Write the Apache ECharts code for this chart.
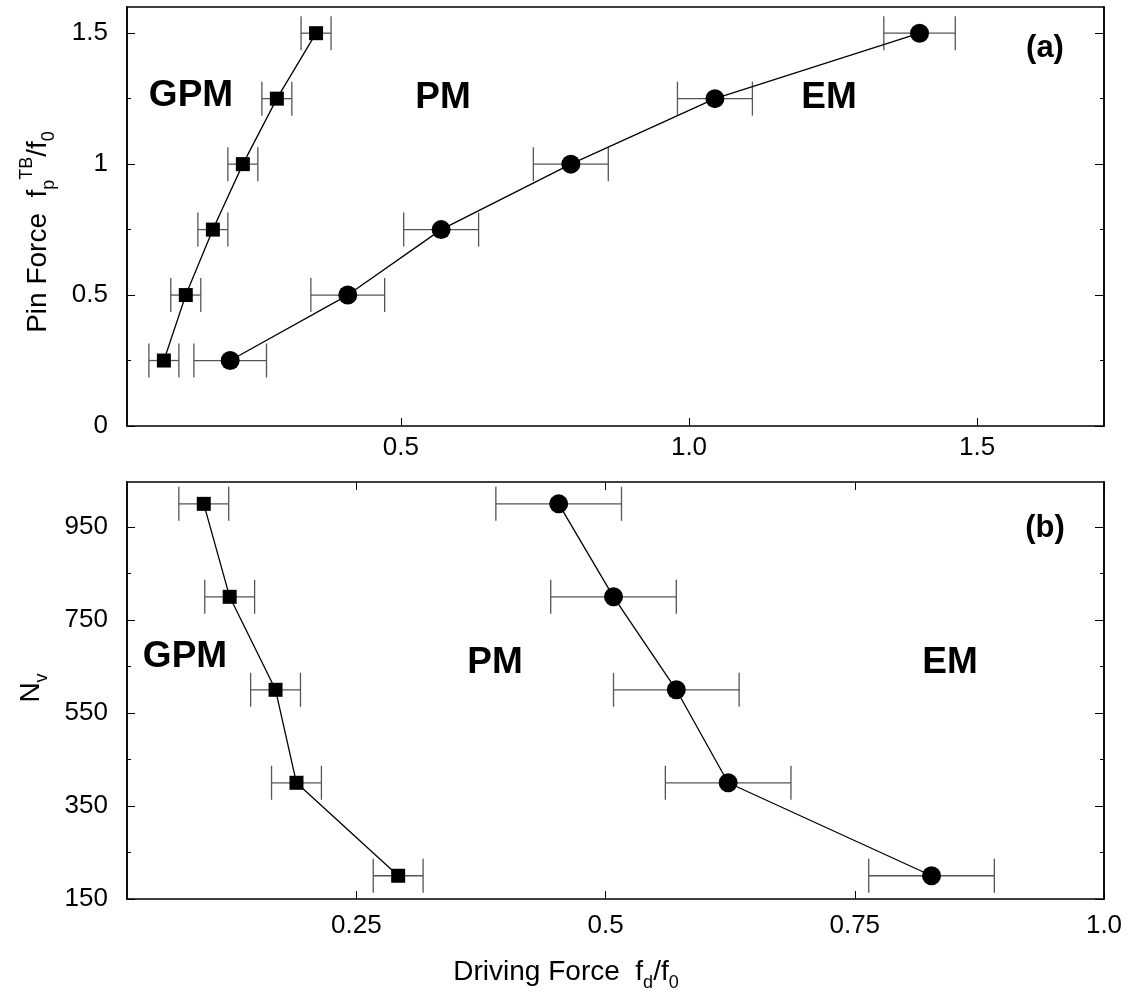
<!DOCTYPE html>
<html>
<head>
<meta charset="utf-8">
<script src="https://cdn.jsdelivr.net/npm/echarts@6/dist/echarts.min.js"></script>
<style>
html, body { margin: 0; padding: 0; background: #fff; }
#chart { width: 1134px; height: 1000px; }
</style>
</head>
<body>
<div id="chart"></div>
<script>
// panel (a): pin force vs driving force
var pinForce = [0.25, 0.5, 0.75, 1.0, 1.25, 1.5];
var gpmFdA = [0.089, 0.127, 0.174, 0.226, 0.285, 0.353];
var gpmErrA = [0.026, 0.026, 0.026, 0.026, 0.026, 0.026];
var emFdA = [0.204, 0.408, 0.570, 0.795, 1.045, 1.400];
var emErrA = [0.063, 0.064, 0.065, 0.065, 0.065, 0.062];

// panel (b): number of vortices vs driving force
var nv = [200, 400, 600, 800, 1000];
var gpmFdB = [0.292, 0.190, 0.169, 0.123, 0.097];
var gpmErrB = [0.025, 0.025, 0.025, 0.025, 0.025];
var emFdB = [0.827, 0.623, 0.571, 0.508, 0.453];
var emErrB = [0.063, 0.063, 0.063, 0.063, 0.063];

// tick positions
var xTicksA = [0.5, 1.0, 1.5];
var yMajorA = [0, 0.5, 1, 1.5];
var yMinorA = [0.25, 0.75, 1.25];
var xTicksB = [0.25, 0.5, 0.75, 1.0];
var yMajorB = [150, 350, 550, 750, 950];
var yMinorB = [250, 450, 650, 850];

var FONT = 'Liberation Sans, Arial, sans-serif';

function rich(size) {
    return {
        m: { fontSize: size, fontFamily: FONT, color: '#000', lineHeight: size + 12, verticalAlign: 'middle' },
        sub: { fontSize: 18, fontFamily: FONT, color: '#000', lineHeight: 18, verticalAlign: 'bottom' },
        sup: { fontSize: 18, fontFamily: FONT, color: '#000', lineHeight: 18, verticalAlign: 'top' }
    };
}

var lineBlack = { show: true, onZero: false, lineStyle: { color: '#000', width: 1.5 } };

function xAxisOf(grid, pos, min, max, ticks, showLabels, fmt) {
    return {
        type: 'value', gridIndex: grid, position: pos, min: min, max: max,
        axisLine: lineBlack,
        splitLine: { show: false },
        axisTick: { show: ticks != null, inside: true, length: 8, customValues: ticks || [],
            lineStyle: { color: '#000', width: 1 } },
        axisLabel: { show: showLabels, customValues: ticks || [], formatter: fmt,
            fontSize: 26, fontFamily: FONT, color: '#000', margin: grid == 1 ? 14 : 9 }
    };
}

function yAxisOf(grid, pos, min, max, ticks, len, showLabels) {
    return {
        type: 'value', gridIndex: grid, position: pos, min: min, max: max,
        axisLine: lineBlack,
        splitLine: { show: false },
        axisTick: { show: true, inside: true, length: len, customValues: ticks,
            lineStyle: { color: '#000', width: 1 } },
        axisLabel: { show: showLabels, customValues: ticks,
            fontSize: 26, fontFamily: FONT, color: '#000', margin: 19 }
    };
}

function pairs(xs, ys) {
    return xs.map(function (x, i) { return [x, ys[i]]; });
}

function errorBars(xi, yi, xs, ys, errs) {
    var data = xs.map(function (x, i) { return [x, ys[i], errs[i]]; });
    return {
        type: 'custom', xAxisIndex: xi, yAxisIndex: yi, data: data, z: 2, silent: true,
        encode: { x: 0, y: 1 },
        renderItem: function (params, api) {
            var x = api.value(0), y = api.value(1), e = api.value(2);
            var a = api.coord([x - e, y]);
            var b = api.coord([x + e, y]);
            var h = 17;
            var st = { stroke: '#555', lineWidth: 1.3 };
            return {
                type: 'group',
                children: [
                    { type: 'line', shape: { x1: a[0], y1: a[1], x2: b[0], y2: b[1] }, style: st },
                    { type: 'line', shape: { x1: a[0], y1: a[1] - h, x2: a[0], y2: a[1] + h }, style: st },
                    { type: 'line', shape: { x1: b[0], y1: b[1] - h, x2: b[0], y2: b[1] + h }, style: st }
                ]
            };
        }
    };
}

function points(xi, yi, data, symbol, size) {
    return {
        type: 'line', xAxisIndex: xi, yAxisIndex: yi, data: data, z: 3,
        symbol: symbol, symbolSize: size, showSymbol: true,
        itemStyle: { color: '#000', opacity: 1 },
        lineStyle: { color: '#000', width: 1.3 }
    };
}

function label(txt, x, y, size) {
    return {
        type: 'text', x: x, y: y, z: 10,
        style: { text: txt, fontSize: size, fontWeight: 'bold', fontFamily: FONT,
            fill: '#000', align: 'center', verticalAlign: 'middle' }
    };
}

function axisTitle(txt, x, y, rot) {
    return {
        type: 'text', x: x, y: y, rotation: rot, z: 10,
        style: { text: txt, rich: rich(28), align: 'center', verticalAlign: 'middle' }
    };
}

var fmtA = function (v) { return v.toFixed(1); };
var fmtB = function (v) { return v === 1 ? '1.0' : String(v); };

var option = {
    animation: false,
    backgroundColor: '#fff',
    grid: [
        { left: 127, right: 30, top: 7, height: 419 },
        { left: 127, right: 30, top: 482, height: 417 }
    ],
    xAxis: [
        xAxisOf(0, 'bottom', 0.025, 1.72, xTicksA, true, fmtA),
        xAxisOf(0, 'top', 0.025, 1.72, null, false),
        xAxisOf(1, 'bottom', 0.02, 1.0, xTicksB, true, fmtB),
        xAxisOf(1, 'top', 0.02, 1.0, xTicksB, false)
    ],
    yAxis: [
        yAxisOf(0, 'left', 0, 1.6, yMajorA, 8, true),
        yAxisOf(0, 'left', 0, 1.6, yMinorA, 4, false),
        yAxisOf(0, 'right', 0, 1.6, yMajorA, 9, false),
        yAxisOf(0, 'right', 0, 1.6, yMinorA, 4, false),
        yAxisOf(1, 'left', 150, 1047, yMajorB, 8, true),
        yAxisOf(1, 'left', 150, 1047, yMinorB, 4, false),
        yAxisOf(1, 'right', 150, 1047, yMajorB, 9, false),
        yAxisOf(1, 'right', 150, 1047, yMinorB, 4, false)
    ],
    series: [
        errorBars(0, 0, gpmFdA, pinForce, gpmErrA),
        errorBars(0, 0, emFdA, pinForce, emErrA),
        points(0, 0, pairs(gpmFdA, pinForce), 'rect', 14),
        points(0, 0, pairs(emFdA, pinForce), 'circle', 19),
        errorBars(2, 4, gpmFdB, nv, gpmErrB),
        errorBars(2, 4, emFdB, nv, emErrB),
        points(2, 4, pairs(gpmFdB, nv), 'rect', 14),
        points(2, 4, pairs(emFdB, nv), 'circle', 19)
    ],
    graphic: [
        label('GPM', 191, 96, 37),
        label('PM', 443, 98, 37),
        label('EM', 829, 98, 37),
        label('(a)', 1045, 48, 31),
        label('GPM', 185, 657, 37),
        label('PM', 495, 663, 37),
        label('EM', 950, 663, 37),
        label('(b)', 1045, 528, 31),
        axisTitle('{m|Pin Force  f}{sub|p}{sup|TB}{m|/f}{sub|0}', 38, 232, Math.PI / 2),
        axisTitle('{m|N}{sub|v}', 31, 688, Math.PI / 2),
        axisTitle('{m|Driving Force  f}{sub|d}{m|/f}{sub|0}', 566, 972, 0)
    ]
};

var chart = echarts.init(document.getElementById('chart'), null, { renderer: 'canvas' });
chart.setOption(option);
</script>
</body>
</html>
